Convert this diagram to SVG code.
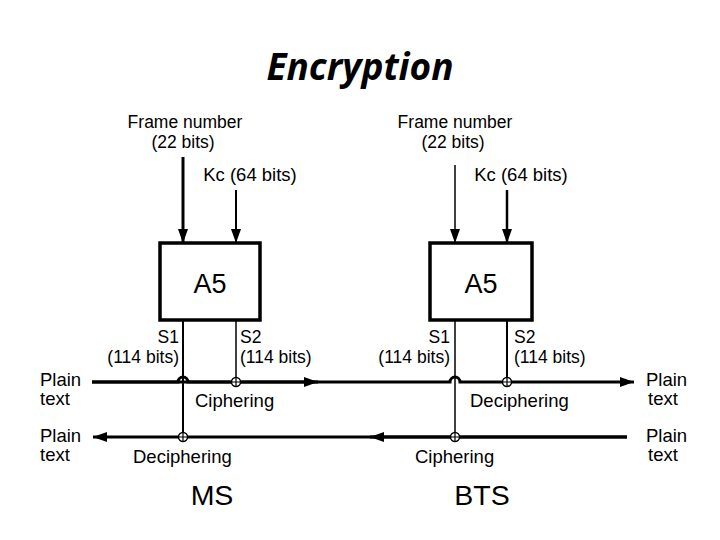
<svg xmlns="http://www.w3.org/2000/svg" width="720" height="540" viewBox="0 0 720 540">
<style>
text{font-family:"Liberation Sans",Arial,sans-serif;fill:#000}
.lbl{font-size:18.5px}
.sm{font-size:17.5px}
.big{font-size:27px}
.hd{font-size:28.5px}
.title{font-family:"Open Sans","Liberation Sans",sans-serif;font-size:37px;font-weight:bold;font-style:italic}
.box{fill:#fff;stroke:#000;stroke-width:3.5}
.ln{fill:none;stroke:#000}
.xor{fill:#fff;stroke:#000;stroke-width:1.5}
</style>
<defs>
<marker id="ah" viewBox="0 0 14 10" refX="14" refY="5" markerWidth="14" markerHeight="10" markerUnits="userSpaceOnUse" orient="auto">
<path d="M0,0 L14,5 L0,10 z" fill="#000"/>
</marker>
</defs>
<rect width="720" height="540" fill="#fff"/>
<text class="title" x="360" y="80" text-anchor="middle">Encryption</text>

<g id="connectors">
<line class="ln" x1="183" y1="157" x2="183" y2="243" stroke-width="3" marker-end="url(#ah)"/>
<line class="ln" x1="236" y1="190" x2="236" y2="243" stroke-width="2" marker-end="url(#ah)"/>
<line class="ln" x1="455" y1="165" x2="455" y2="243" stroke-width="1.5" marker-end="url(#ah)"/>
<line class="ln" x1="507" y1="190" x2="507" y2="243" stroke-width="2.5" marker-end="url(#ah)"/>
<line class="ln" x1="183" y1="320" x2="183" y2="437" stroke-width="2"/>
<line class="ln" x1="236" y1="320" x2="236" y2="382" stroke-width="1.5"/>
<line class="ln" x1="455" y1="320" x2="455" y2="437" stroke-width="1.5"/>
<line class="ln" x1="507" y1="320" x2="507" y2="382" stroke-width="2"/>
<path class="ln" stroke-width="3" d="M92,382 H178 A5,5 0 0 1 188,382 H450 A5,5 0 0 1 460,382 H634" marker-end="url(#ah)"/>
<line class="ln" x1="92" y1="382" x2="318" y2="382" stroke-width="3" marker-end="url(#ah)"/>
<line class="ln" x1="627" y1="437" x2="93" y2="437" stroke-width="3" marker-end="url(#ah)"/>
<line class="ln" x1="627" y1="437" x2="370" y2="437" stroke-width="3" marker-end="url(#ah)"/>
<g>
<circle class="xor" cx="236" cy="382" r="4.5"/><path class="ln" stroke-width="1.2" d="M231.5,382 H240.5 M236,377.5 V386.5"/>
<circle class="xor" cx="183" cy="437" r="4.5"/><path class="ln" stroke-width="1.2" d="M178.5,437 H187.5 M183,432.5 V441.5"/>
<circle class="xor" cx="507" cy="382" r="4.5"/><path class="ln" stroke-width="1.2" d="M502.5,382 H511.5 M507,377.5 V386.5"/>
<circle class="xor" cx="455" cy="437" r="4.5"/><path class="ln" stroke-width="1.2" d="M450.5,437 H459.5 M455,432.5 V441.5"/>
</g>
</g>

<g id="ms">
<g id="ms-a5"><rect class="box" x="160" y="243" width="100" height="77"/><text class="big" x="210" y="293" text-anchor="middle">A5</text></g>
<g id="ms-frame"><text class="sm" x="185" y="128" text-anchor="middle">Frame number</text><text class="sm" x="183" y="148" text-anchor="middle">(22 bits)</text></g>
<g id="ms-kc"><text class="lbl" x="250" y="181" text-anchor="middle">Kc (64 bits)</text></g>
<g id="ms-s1"><text class="sm" x="179" y="343" text-anchor="end">S1</text><text class="sm" x="179" y="363" text-anchor="end">(114 bits)</text></g>
<g id="ms-s2"><text class="sm" x="240" y="343">S2</text><text class="sm" x="240" y="363">(114 bits)</text></g>
<g id="ms-pt1"><text class="lbl" x="40" y="386">Plain</text><text class="lbl" x="40" y="405">text</text></g>
<g id="ms-pt2"><text class="lbl" x="40" y="442">Plain</text><text class="lbl" x="40" y="461">text</text></g>
<g id="ms-ciph"><text class="lbl" x="195" y="407">Ciphering</text></g>
<g id="ms-deciph"><text class="lbl" x="133" y="463">Deciphering</text></g>
<text class="hd" x="212" y="505" text-anchor="middle">MS</text>
</g>

<g id="bts">
<g id="bts-a5"><rect class="box" x="430" y="243" width="102" height="77"/><text class="big" x="481" y="293" text-anchor="middle">A5</text></g>
<g id="bts-frame"><text class="sm" x="455" y="128" text-anchor="middle">Frame number</text><text class="sm" x="453" y="148" text-anchor="middle">(22 bits)</text></g>
<g id="bts-kc"><text class="lbl" x="521" y="181" text-anchor="middle">Kc (64 bits)</text></g>
<g id="bts-s1"><text class="sm" x="450" y="343" text-anchor="end">S1</text><text class="sm" x="450" y="363" text-anchor="end">(114 bits)</text></g>
<g id="bts-s2"><text class="sm" x="514" y="343">S2</text><text class="sm" x="514" y="363">(114 bits)</text></g>
<g id="bts-pt1"><text class="lbl" x="646" y="386">Plain</text><text class="lbl" x="648" y="405">text</text></g>
<g id="bts-pt2"><text class="lbl" x="646" y="442">Plain</text><text class="lbl" x="648" y="461">text</text></g>
<g id="bts-deciph"><text class="lbl" x="470" y="407">Deciphering</text></g>
<g id="bts-ciph"><text class="lbl" x="415" y="463">Ciphering</text></g>
<text class="hd" x="482" y="505" text-anchor="middle">BTS</text>
</g>
</svg>
